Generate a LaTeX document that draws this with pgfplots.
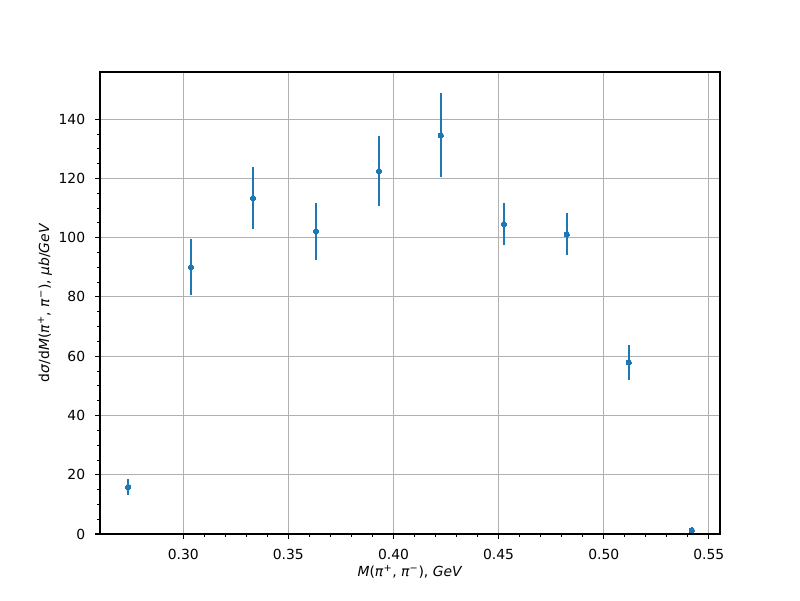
\documentclass[border=0pt]{standalone}
\usepackage{pgfplots}
\pgfplotsset{compat=1.18}
\usepackage{fontspec}
\setmainfont{DejaVu Sans}
\definecolor{mplblue}{HTML}{1F77B4}
\definecolor{mplgrid}{HTML}{B0B0B0}
\begin{document}
\begin{tikzpicture}
\useasboundingbox (-72pt,-47.52pt) rectangle (504pt,384.48pt);
\begin{axis}[
  at={(0,0)}, anchor=south west,
  scale only axis,
  width=446.4pt, height=332.64pt,
  xmin=0.2604, xmax=0.5553,
  ymin=0, ymax=155.9,
  xtick={0.30,0.35,0.40,0.45,0.50,0.55},
  ytick={0,20,40,60,80,100,120,140},
  minor x tick num=4,
  minor y tick num=3,
  tick align=outside,
  tick pos=left,
  major tick length=3.5pt,
  minor tick length=2pt,
  every tick/.style={black, line width=0.8pt},
  every minor tick/.style={black, line width=0.6pt},
  axis line style={line width=0.8pt, black},
  grid=major,
  major grid style={mplgrid, line width=0.8pt},
  /pgf/number format/assume math mode=true,
  xticklabel style={/pgf/number format/fixed, /pgf/number format/fixed zerofill, /pgf/number format/precision=2},
  yticklabel style={/pgf/number format/fixed, /pgf/number format/precision=0},
  scaled x ticks=false,
  tick label style={font=\fontsize{10}{12}\selectfont},
  xticklabel style={inner sep=0pt, yshift=-7pt},
  yticklabel style={inner sep=0pt, xshift=-7pt},
  xlabel={\textit{M}(\textit{π}\textsuperscript{+}, \textit{π}\textsuperscript{−}), \textit{GeV}},
  ylabel={d\textit{σ}/d\textit{M}(\textit{π}\textsuperscript{+}, \textit{π}\textsuperscript{−}), \textit{μb}/\textit{GeV}},
  every axis x label/.style={at={(axis description cs:0.5,0)}, anchor=center, yshift=-27.4pt, font=\fontsize{10}{12}\selectfont},
  every axis y label/.style={at={(axis description cs:0,0.5)}, xshift=-39.6pt, anchor=center, rotate=90, font=\fontsize{10}{12}\selectfont},
]
\addplot[only marks, mplblue, mark=*, mark size=1.9pt, mark options={draw=mplblue, fill=mplblue, line width=0pt},
  error bars/.cd, y dir=both, y explicit, error mark=none,
  error bar style={line width=1.5pt, mplblue}]
  table[x=x, y=y, y error=e] {
x y e
0.2738 15.9 2.7
0.3037 90.1 9.4
0.3332 113.4 10.5
0.3631 102.2 9.6
0.3931 122.5 11.8
0.4225 134.6 14.2
0.4525 104.6 7.1
0.4824 101.2 7.1
0.5119 58.0 5.9
0.5419 1.3 0.3
};
\end{axis}
\end{tikzpicture}
\end{document}
